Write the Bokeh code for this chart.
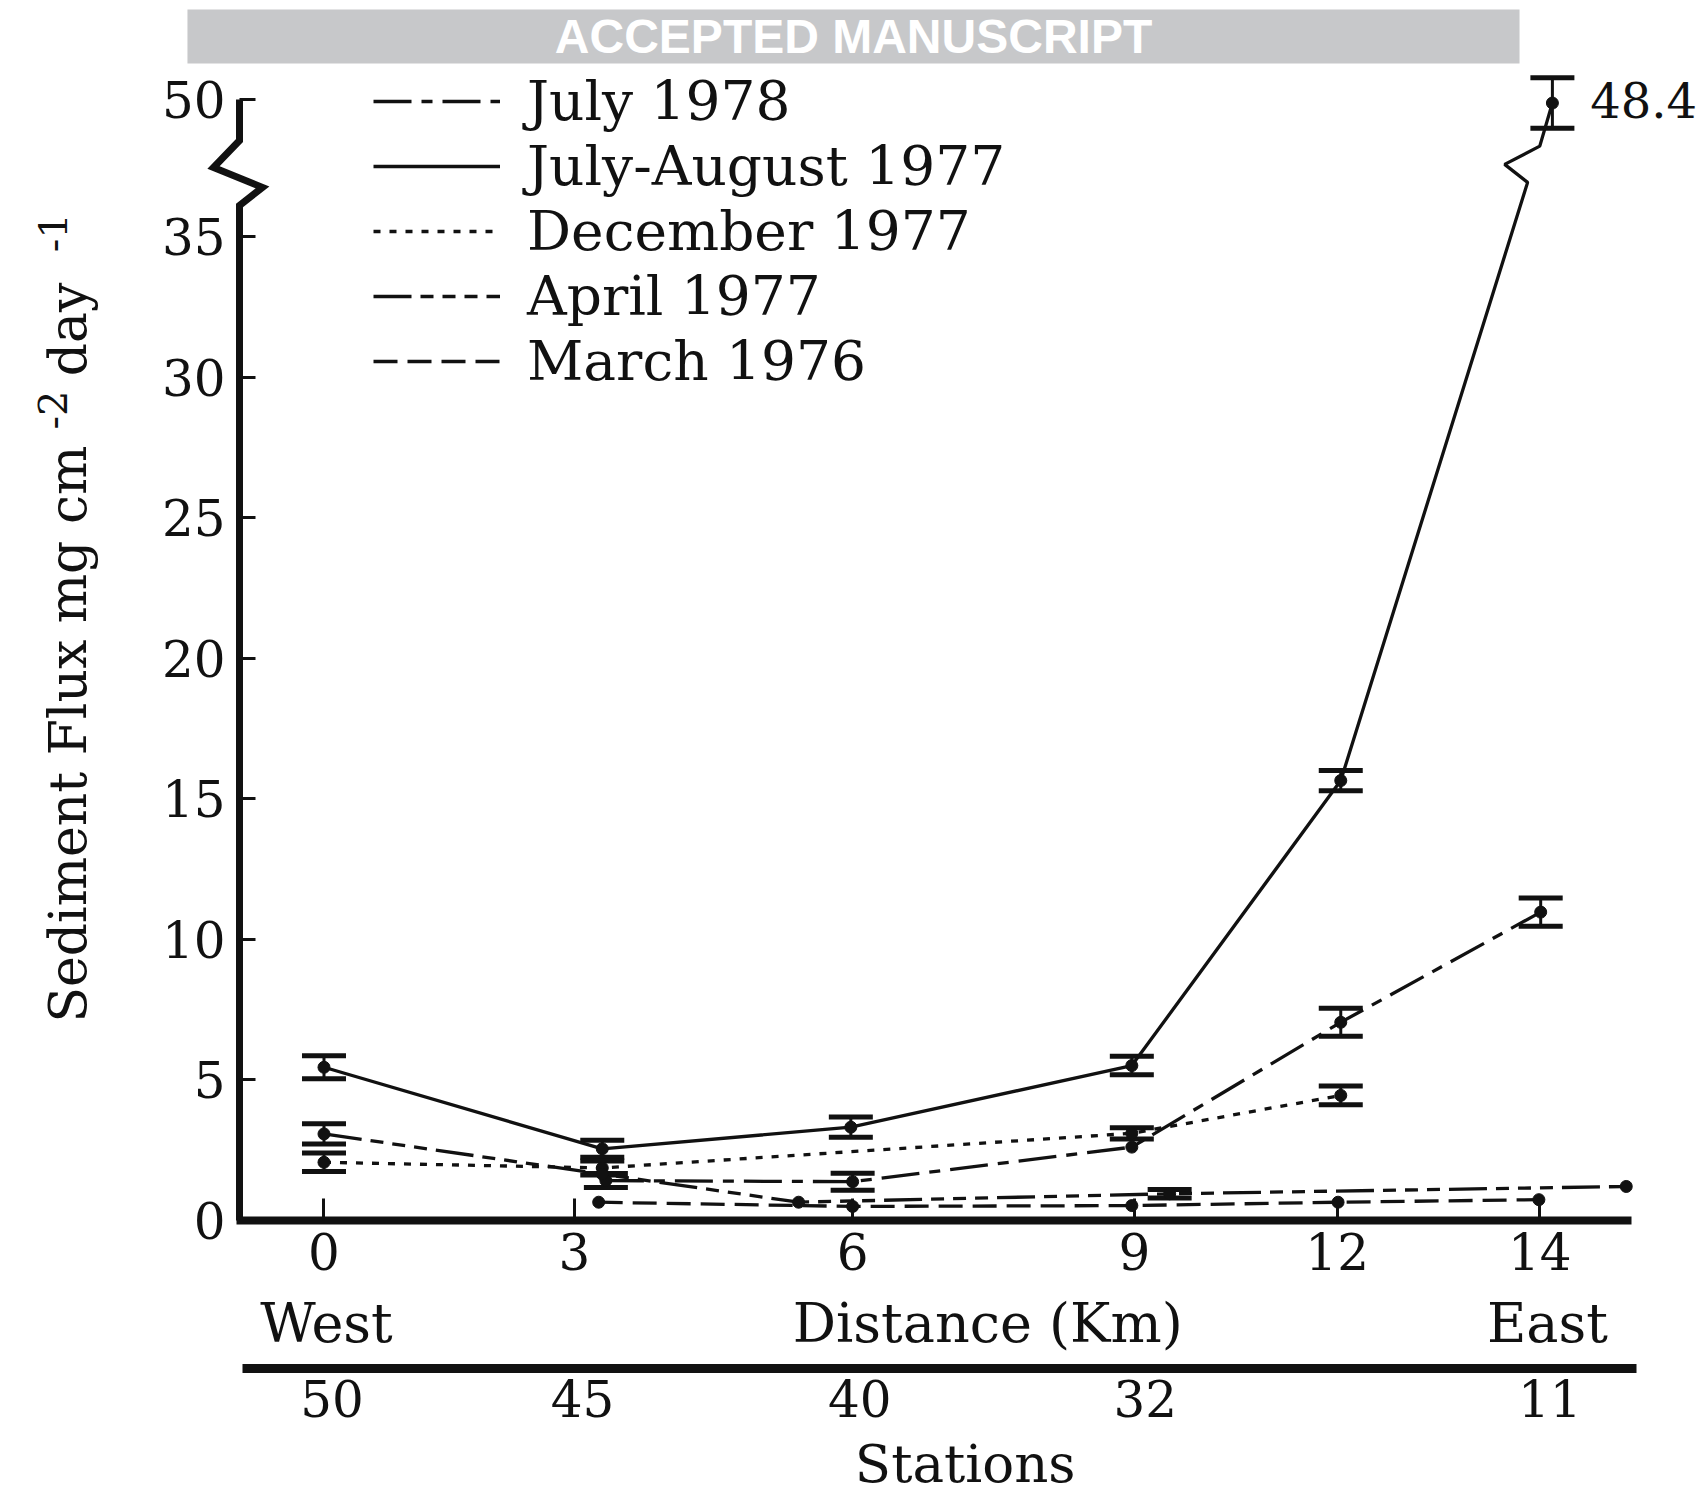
import numpy as np
from bokeh.plotting import figure
from bokeh.models import (Range1d, LinearAxis, FixedTicker, ColumnDataSource, Whisker,
                          TeeHead, Label, Legend, LegendItem, BoxAnnotation)
from bokeh.embed import file_html
from bokeh.resources import INLINE

# ---------------- data ----------------
# schematic distance axis: tick positions on the drawn axis and their labels
x_tick_pos = [0.0, 2.78, 5.87, 9.0, 11.25, 13.5]
x_tick_labels = ["0", "3", "6", "9", "12", "14"]
station_pos = [0.09, 2.87, 5.95, 9.12, 13.61]
station_labels = ["50", "45", "40", "32", "11"]
y_tick_values = [0, 5, 10, 15, 20, 25, 30, 35, 50]

jul_aug_1977_x = [0.0, 3.09, 5.85, 8.97, 11.29, 13.64]
jul_aug_1977_y = [5.45, 2.55, 3.32, 5.51, 15.65, 48.4]
jul_aug_1977_err = [0.41, 0.30, 0.36, 0.33, 0.36, 0.9]

jul_1978_x = [3.13, 5.87, 8.97, 11.29, 13.51]
jul_1978_y = [1.42, 1.38, 2.61, 7.05, 10.97]
jul_1978_err = [0.25, 0.30, 0.0, 0.50, 0.50]

dec_1977_x = [0.0, 3.09, 8.97, 11.29]
dec_1977_y = [2.07, 1.87, 3.10, 4.45]
dec_1977_err = [0.33, 0.25, 0.20, 0.33]

apr_1977_x = [0.0, 3.09, 5.27, 9.39, 14.46]
apr_1977_y = [3.08, 1.65, 0.65, 0.95, 1.21]
apr_1977_err = [0.36, 0.0, 0.0, 0.15, 0.0]

mar_1976_x = [3.05, 5.87, 8.97, 11.26, 13.49]
mar_1976_y = [0.65, 0.50, 0.53, 0.65, 0.74]
mar_1976_err = [0.0, 0.0, 0.0, 0.0, 0.0]

top_value_label = "48.4"

# ---------------- broken y axis ----------------
BREAK_AT = 35.0
TOP_TICK_POS = 39.88      # axis position of the "50" tick above the break
TOP_SCALE = 0.08


def axis_y(v):
    v = np.asarray(v, dtype=float)
    return np.where(v <= BREAK_AT, v, TOP_TICK_POS - (50.0 - v) * TOP_SCALE)


AXIS_X = -0.938           # where the y axis is drawn
X_AXIS_END = 14.52
STATION_AXIS_Y = -5.265
STATION_AXIS = (-0.90, 14.57)
SERIF = "DejaVu Serif"
INK = "#111111"

W, H = 1705, 1496
p = figure(width=W, height=H, output_backend="svg", toolbar_location=None,
           x_range=Range1d(-3.592, 15.340), y_range=Range1d(-9.819, 43.40),
           x_axis_type=None, y_axis_type=None,
           min_border_left=0, min_border_right=0, min_border_top=0, min_border_bottom=0)
p.outline_line_color = None
p.background_fill_color = "white"
p.border_fill_color = "white"

# banner
p.add_layout(BoxAnnotation(left=-1.516, right=13.275, bottom=41.16, top=43.08,
                           fill_color="#c7c8ca", fill_alpha=1.0, line_color=None))
p.add_layout(Label(x=5.88, y=42.12, text="ACCEPTED MANUSCRIPT", text_align="center",
                   text_baseline="middle", text_color="white", text_font="Liberation Sans",
                   text_font_style="bold", text_font_size="48px"))

# y axis (ticks/labels from Bokeh, line with break drawn as a path)
y_pos = [float(axis_y(v)) for v in y_tick_values]
yaxis = LinearAxis(fixed_location=AXIS_X, bounds=(0, TOP_TICK_POS),
                   ticker=FixedTicker(ticks=y_pos),
                   major_label_overrides={yp: str(v) for yp, v in zip(y_pos, y_tick_values)},
                   axis_line_color=None, major_tick_in=16, major_tick_out=0,
                   major_tick_line_width=3, major_tick_line_color=INK,
                   minor_tick_line_color=None, major_label_standoff=14,
                   major_label_text_font=SERIF, major_label_text_font_size="50px",
                   major_label_text_color=INK)
p.add_layout(yaxis, "left")
dx_l, dx_r = 0.289, 0.255
p.line([AXIS_X, AXIS_X, AXIS_X + dx_r, AXIS_X - dx_l, AXIS_X, AXIS_X],
       [0, 36.11, 36.75, 37.46, 38.42, TOP_TICK_POS],
       line_width=7, line_color=INK, line_join="miter")

# distance axis
xaxis = LinearAxis(fixed_location=0, ticker=FixedTicker(ticks=x_tick_pos),
                   major_label_overrides=dict(zip(x_tick_pos, x_tick_labels)),
                   bounds=(AXIS_X - 0.03, X_AXIS_END),
                   axis_line_width=8, axis_line_color=INK,
                   major_tick_in=22, major_tick_out=0, major_tick_line_width=3,
                   major_tick_line_color=INK, minor_tick_line_color=None,
                   major_label_standoff=13, major_label_text_font=SERIF,
                   major_label_text_font_size="50px", major_label_text_color=INK)
p.add_layout(xaxis, "below")

# stations axis
saxis = LinearAxis(fixed_location=STATION_AXIS_Y, ticker=FixedTicker(ticks=station_pos),
                   major_label_overrides=dict(zip(station_pos, station_labels)),
                   bounds=STATION_AXIS, axis_line_width=9, axis_line_color=INK,
                   major_tick_line_color=None, major_tick_in=0, major_tick_out=0,
                   minor_tick_line_color=None, major_label_standoff=12,
                   major_label_text_font=SERIF, major_label_text_font_size="50px",
                   major_label_text_color=INK)
p.add_layout(saxis, "below")

for txt, xx in (("West", 0.028), ("Distance (Km)", 7.37), ("East", 13.585)):
    p.add_layout(Label(x=xx, y=-3.66, text=txt, text_align="center",
                       text_baseline="alphabetic", text_font=SERIF,
                       text_font_size="54px", text_color=INK))
p.add_layout(Label(x=7.12, y=-8.66, text="Stations", text_align="center",
                   text_baseline="alphabetic", text_font=SERIF,
                   text_font_size="53px", text_color=INK))

# y title with superscripts (rotated)
for txt, xx, yy, fs in (("Sediment Flux mg cm", -2.837, 7.04, "52px"),
                        ("-2", -3.015, 28.14, "40px"),
                        ("day", -2.837, 30.03, "52px"),
                        ("-1", -3.015, 34.44, "40px")):
    p.add_layout(Label(x=xx, y=yy, text=txt, angle=np.pi / 2, text_align="left",
                       text_baseline="alphabetic", text_font=SERIF,
                       text_font_size=fs, text_color=INK))

# ---------------- series ----------------
def whiskers(xs, ys, errs):
    keep = [i for i, e in enumerate(errs) if e > 0]
    if not keep:
        return
    yc = axis_y([ys[i] for i in keep])
    e = np.array([errs[i] for i in keep])
    src = ColumnDataSource(dict(x=[xs[i] for i in keep], lo=yc - e, hi=yc + e))
    p.add_layout(Whisker(source=src, base="x", lower="lo", upper="hi", dimension="height",
                         line_width=3, line_color=INK,
                         lower_head=TeeHead(size=44, line_width=5, line_color=INK),
                         upper_head=TeeHead(size=44, line_width=5, line_color=INK)))


# July-August 1977 (solid) with a break before the top point
x12, y12 = jul_aug_1977_x[-2], jul_aug_1977_y[-2]
x14, y14 = jul_aug_1977_x[-1], float(axis_y(jul_aug_1977_y[-1]))
LINE_BREAK_LO = 36.93
t = (LINE_BREAK_LO - y12) / (y14 - y12)
xb = x12 + t * (x14 - x12)
solid_x = list(jul_aug_1977_x[:-1]) + [xb, xb - 0.255, xb + 0.135, x14]
solid_y = list(jul_aug_1977_y[:-1]) + [LINE_BREAK_LO, LINE_BREAK_LO + 0.64,
                                       LINE_BREAK_LO + 1.29, y14]
LW = 3.3
r_solid = p.line(solid_x, solid_y, line_width=LW, line_color=INK)
r_jul78 = p.line(jul_1978_x, axis_y(jul_1978_y), line_width=LW, line_color=INK,
                 line_dash="38 10 11 10")
r_dec77 = p.line(dec_1977_x, axis_y(dec_1977_y), line_width=LW, line_color=INK,
                 line_dash="7 9")
r_apr77 = p.line(apr_1977_x, axis_y(apr_1977_y), line_width=LW, line_color=INK,
                 line_dash="38 9 13 9 13 9 13 9")
r_mar76 = p.line(mar_1976_x, axis_y(mar_1976_y), line_width=LW, line_color=INK,
                 line_dash="24 10")

for xs, ys, es in ((jul_aug_1977_x, jul_aug_1977_y, jul_aug_1977_err),
                   (jul_1978_x, jul_1978_y, jul_1978_err),
                   (dec_1977_x, dec_1977_y, dec_1977_err),
                   (apr_1977_x, apr_1977_y, apr_1977_err),
                   (mar_1976_x, mar_1976_y, mar_1976_err)):
    whiskers(xs, ys, es)
    p.scatter(xs, axis_y(ys), size=12, color=INK)

p.add_layout(Label(x=14.06, y=39.86, text=top_value_label, text_align="left",
                   text_baseline="alphabetic", text_font=SERIF,
                   text_font_size="48px", text_color=INK))

legend = Legend(items=[LegendItem(label="July 1978", renderers=[r_jul78]),
                       LegendItem(label="July-August 1977", renderers=[r_solid]),
                       LegendItem(label="December 1977", renderers=[r_dec77]),
                       LegendItem(label="April 1977", renderers=[r_apr77]),
                       LegendItem(label="March 1976", renderers=[r_mar76])],
                location=(373, 1103), orientation="vertical",
                glyph_width=127, glyph_height=60, label_height=60, label_standoff=27,
                spacing=1, padding=0, margin=0, border_line_color=None,
                background_fill_alpha=0.0, label_text_font=SERIF,
                label_text_font_size="55px", label_text_color=INK)
p.add_layout(legend)

open("out.html", "w").write(file_html(p, INLINE))
